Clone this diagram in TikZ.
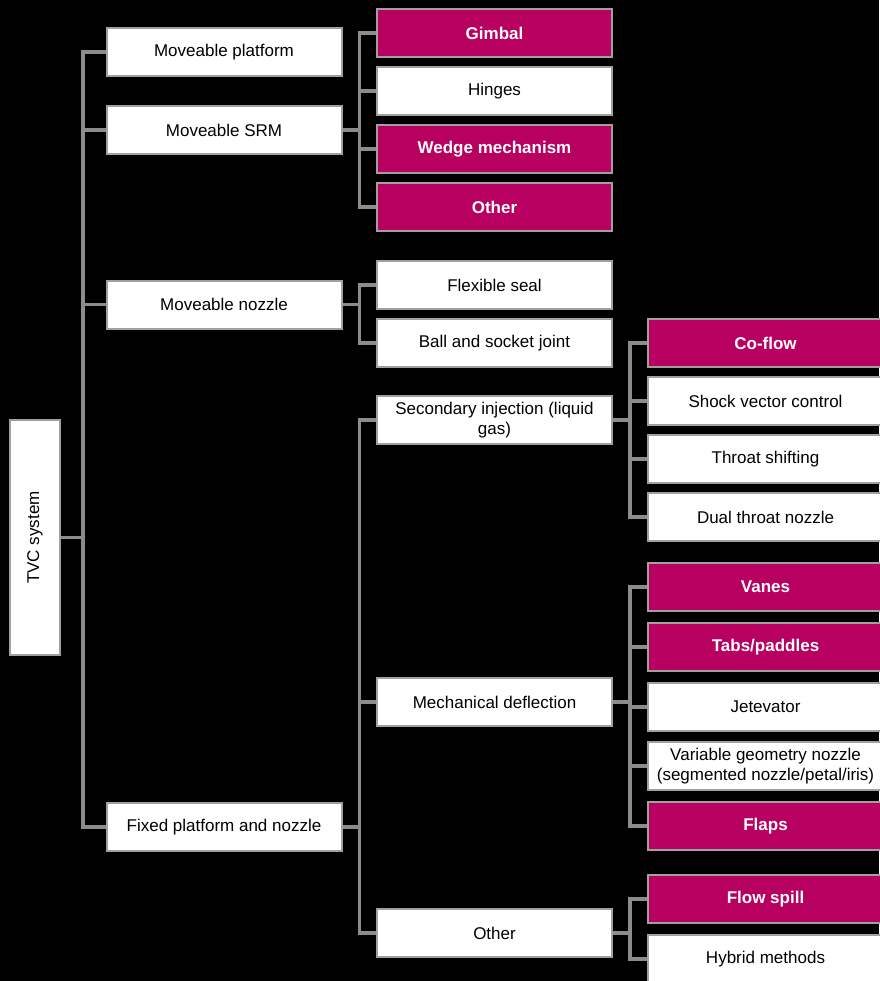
\documentclass[tikz,border=0pt]{standalone}
\usepackage{fontspec}
\setmainfont{Liberation Sans}
\definecolor{mag}{HTML}{B7005F}
\definecolor{lnk}{HTML}{8C8C8C}
\definecolor{bord}{HTML}{A0A0A0}
\pgfdeclarelayer{back}
\pgfdeclarelayer{mid}
\pgfsetlayers{back,mid,main}
\begin{document}
\begin{tikzpicture}[x=1pt,y=-1pt,
  box/.style={draw=bord, line width=2pt, fill=white, minimum width=235pt, minimum height=48pt,
    inner sep=0pt, font=\fontsize{17}{20.5}\selectfont, align=center, text=black},
  hbox/.style={box, fill=mag, text=white, font=\fontsize{17}{20.5}\selectfont\bfseries},
  link/.style={draw=lnk, line width=3.5pt}]
\begin{pgfonlayer}{back}
\fill[black] (0,0) rectangle (879,981);
\end{pgfonlayer}
\useasboundingbox (0,0) rectangle (879,981);

% root
\node[box, rotate=90, minimum width=235pt, minimum height=50pt] (tvc) at (35,537.5) {TVC system};

% column 1
\node[box] (mp) at (224,52) {Moveable platform};
\node[box] (ms) at (224,130) {Moveable SRM};
\node[box] (mn) at (224,304.5) {Moveable nozzle};
\node[box] (fp) at (224,827) {Fixed platform and nozzle};

% column 2
\node[hbox] (gim) at (494.5,33) {Gimbal};
\node[box]  (hin) at (494.5,91) {Hinges};
\node[hbox] (wed) at (494.5,149) {Wedge mechanism};
\node[hbox] (oth1) at (494.5,207) {Other};
\node[box]  (fs) at (494.5,285) {Flexible seal};
\node[box]  (bs) at (494.5,343) {Ball and socket joint};
\node[box]  (si) at (494.5,420) {Secondary injection (liquid\\gas)};
\node[box]  (md) at (494.5,702) {Mechanical deflection};
\node[box]  (oth2) at (494.5,933) {Other};

% column 3
\node[hbox] (cf) at (765.5,343) {Co-flow};
\node[box]  (svc) at (765.5,401) {Shock vector control};
\node[box]  (ts) at (765.5,459) {Throat shifting};
\node[box]  (dt) at (765.5,517) {Dual throat nozzle};
\node[hbox] (van) at (765.5,587) {Vanes};
\node[hbox] (tab) at (765.5,647) {Tabs/paddles};
\node[box]  (jet) at (765.5,707) {Jetevator};
\node[box]  (vg) at (765.5,766) {Variable geometry nozzle\\(segmented nozzle/petal/iris)};
\node[hbox] (fl) at (765.5,826) {Flaps};
\node[hbox] (fsp) at (765.5,899) {Flow spill};
\node[box]  (hyb) at (765.5,959) {Hybrid methods};

% junctions
\coordinate (j1) at (83,537.5);
\coordinate (j2) at (359.5,130);
\coordinate (j3) at (359.5,304.5);
\coordinate (j4) at (359.5,827);
\coordinate (j5) at (630,420);
\coordinate (j6) at (630,702);
\coordinate (j7) at (630,933);

\begin{pgfonlayer}{mid}
% root
\draw[link] (tvc.south) -- (j1);
\draw[link] (mp.west) -| (j1 |- fp.west) -- (fp.west);
\draw[link] (j1 |- ms.west) -- (ms.west);
\draw[link] (j1 |- mn.west) -- (mn.west);
% SRM
\draw[link] (ms.east) -- (j2);
\draw[link] (gim.west) -| (j2 |- oth1.west) -- (oth1.west);
\draw[link] (j2 |- hin.west) -- (hin.west);
\draw[link] (j2 |- wed.west) -- (wed.west);
% nozzle
\draw[link] (mn.east) -- (j3);
\draw[link] (fs.west) -| (j3 |- bs.west) -- (bs.west);
% fixed
\draw[link] (fp.east) -- (j4);
\draw[link] (si.west) -| (j4 |- oth2.west) -- (oth2.west);
\draw[link] (j4 |- md.west) -- (md.west);
% secondary injection
\draw[link] (si.east) -- (j5);
\draw[link] (cf.west) -| (j5 |- dt.west) -- (dt.west);
\draw[link] (j5 |- svc.west) -- (svc.west);
\draw[link] (j5 |- ts.west) -- (ts.west);
% mechanical deflection
\draw[link] (md.east) -- (j6);
\draw[link] (van.west) -| (j6 |- fl.west) -- (fl.west);
\draw[link] (j6 |- tab.west) -- (tab.west);
\draw[link] (j6 |- jet.west) -- (jet.west);
\draw[link] (j6 |- vg.west) -- (vg.west);
% other
\draw[link] (oth2.east) -- (j7);
\draw[link] (fsp.west) -| (j7 |- hyb.west) -- (hyb.west);
\end{pgfonlayer}
\end{tikzpicture}
\end{document}
